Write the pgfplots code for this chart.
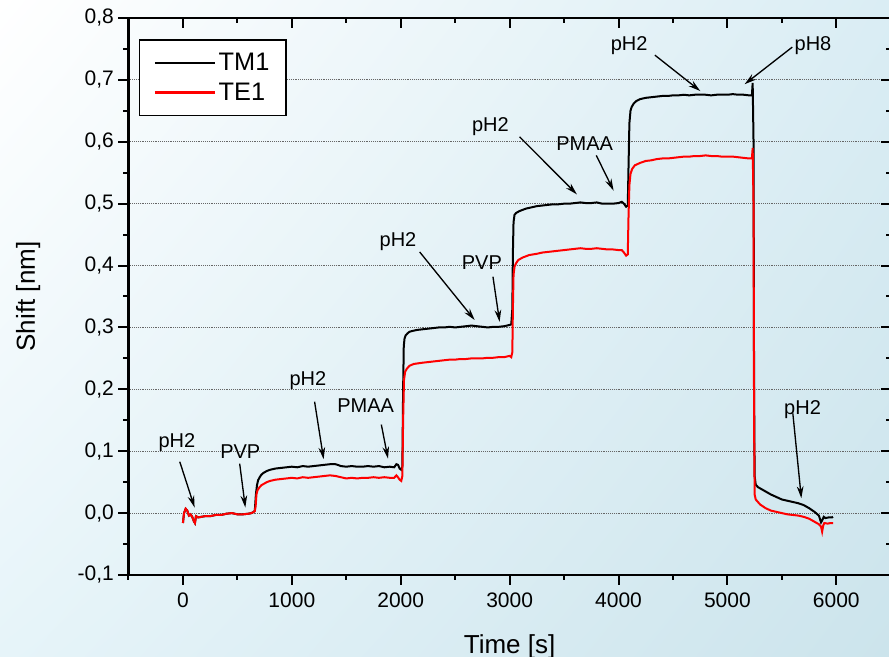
\documentclass[border=0pt]{standalone}
\usepackage{fontspec}
\setmainfont{Liberation Sans}
\usepackage{pgfplots}
\pgfplotsset{compat=1.18}
\usetikzlibrary{arrows.meta,backgrounds,shadings}
\definecolor{bgUR}{RGB}{218,237,244}
\definecolor{bgLL}{RGB}{230,244,249}
\definecolor{bgLR}{RGB}{204,228,236}
\definecolor{tered}{RGB}{255,0,0}
\pgfplotsset{
  common/.style={
    scale only axis, width=571.7pt, height=417.75pt,
    xmin=-500, xmax=6500, ymin=-0.1, ymax=0.8,
    xtick={0,1000,2000,3000,4000,5000,6000},
    minor xtick={-500,500,1500,2500,3500,4500,5500,6500},
    ytick={-0.1,0,0.1,0.2,0.3,0.4,0.5,0.6,0.7,0.8},
    minor ytick={-0.05,0.05,0.15,0.25,0.35,0.45,0.55,0.65,0.75},
    major tick length=7.5pt, minor tick length=3.75pt,
    every tick/.style={black, line width=1.5pt},
    axis line style={line width=2pt},
    scaled x ticks=false, scaled y ticks=false,
    /pgf/number format/assume math mode=true,
  }
}
\begin{document}
\begin{tikzpicture}
\begin{axis}[common, name=main,
  tick align=outside, xtick pos=bottom, ytick pos=left,
  ymajorgrids, major grid style={densely dotted, black!60, line width=0.6pt},
  tick label style={font=\fontsize{15.75}{18}\selectfont},
  xticklabel style={/pgf/number format/set thousands separator={}, yshift=-2pt},
  yticklabel style={/pgf/number format/.cd, use comma, fixed, fixed zerofill, precision=1},
  xlabel={Time [s]}, ylabel={Shift [nm]},
  label style={font=\fontsize{19.5}{22}\selectfont},
  xlabel style={at={(axis description cs:0.5,-0.1406)}, anchor=base},
  ylabel style={at={(axis description cs:-0.1227,0.5)}, anchor=base, rotate=0},
  legend style={at={(axis description cs:0.0138,0.9618)}, anchor=north west,
    draw=black, line width=1pt, fill=white,
    font=\fontsize{19}{22}\selectfont, inner xsep=10.5pt, inner ysep=8pt, row sep=3.5pt},
  legend cell align=left,
  legend image code/.code={\draw[#1, line width=1.8pt] (0pt,0pt) -- (45pt,0pt);},
]
\addplot[black, line width=1.5pt] coordinates {
(0,-0.016) (10,0.0) (25,0.007) (40,0.004) (55,-0.004) (70,-0.002) (85,-0.006) (100,-0.013) (110,-0.016) (120,-0.005) (140,-0.007) (170,-0.006) (200,-0.005) (250,-0.005) (300,-0.003) (350,-0.003) (400,-0.001) (450,0.000) (500,-0.002) (550,-0.002) (600,-0.001) (630,0.000) (650,0.002) (660,0.004) (670,0.03) (680,0.045) (690,0.053) (705,0.058) (720,0.062) (740,0.065) (770,0.068) (800,0.070) (850,0.072) (900,0.073) (950,0.074) (1000,0.075) (1050,0.074) (1100,0.076) (1150,0.075) (1200,0.076) (1250,0.077) (1300,0.078) (1350,0.079) (1400,0.079) (1420,0.078) (1450,0.076) (1500,0.075) (1550,0.076) (1600,0.075) (1650,0.075) (1700,0.076) (1750,0.075) (1800,0.076) (1850,0.074) (1900,0.075) (1940,0.074) (1960,0.079) (1975,0.078) (1990,0.072) (2005,0.070) (2015,0.075) (2022,0.20) (2028,0.27) (2035,0.282) (2045,0.287) (2060,0.290) (2080,0.293) (2100,0.294) (2150,0.296) (2200,0.297) (2250,0.298) (2300,0.299) (2350,0.300) (2400,0.300) (2450,0.301) (2500,0.300) (2550,0.301) (2600,0.302) (2650,0.303) (2700,0.302) (2750,0.301) (2800,0.300) (2850,0.301) (2900,0.301) (2950,0.302) (3000,0.304) (3015,0.305) (3025,0.33) (3030,0.42) (3036,0.47) (3045,0.482) (3060,0.485) (3090,0.488) (3120,0.490) (3150,0.492) (3200,0.494) (3250,0.496) (3300,0.497) (3350,0.498) (3400,0.499) (3450,0.499) (3500,0.500) (3550,0.500) (3600,0.501) (3650,0.502) (3700,0.501) (3750,0.501) (3800,0.502) (3850,0.500) (3900,0.500) (3950,0.500) (4000,0.501) (4030,0.503) (4050,0.500) (4070,0.495) (4085,0.497) (4092,0.56) (4100,0.63) (4110,0.650) (4120,0.656) (4140,0.662) (4165,0.666) (4200,0.669) (4250,0.671) (4300,0.672) (4350,0.673) (4400,0.674) (4450,0.674) (4500,0.675) (4550,0.675) (4600,0.676) (4650,0.675) (4700,0.676) (4750,0.676) (4800,0.676) (4850,0.675) (4900,0.676) (4950,0.676) (5000,0.676) (5050,0.677) (5100,0.676) (5150,0.676) (5200,0.675) (5225,0.675) (5232,0.695) (5240,0.60) (5245,0.20) (5250,0.06) (5260,0.046) (5280,0.042) (5300,0.040) (5350,0.035) (5400,0.030) (5450,0.026) (5500,0.022) (5550,0.020) (5600,0.018) (5650,0.016) (5700,0.013) (5750,0.008) (5800,0.002) (5840,-0.004) (5860,-0.015) (5875,-0.010) (5885,-0.006) (5900,-0.008) (5930,-0.007) (5960,-0.007) (5970,-0.006)
};
\addlegendentry{TM1}
\addplot[tered, line width=1.5pt] coordinates {
(0,-0.016) (10,0.0) (25,0.007) (40,0.004) (55,-0.004) (70,-0.002) (85,-0.006) (100,-0.013) (110,-0.016) (120,-0.005) (140,-0.007) (170,-0.006) (200,-0.005) (250,-0.005) (300,-0.003) (350,-0.003) (400,-0.001) (450,0.000) (500,-0.002) (550,-0.002) (600,-0.001) (630,0.000) (650,0.002) (660,0.003) (668,0.012) (675,0.030) (685,0.037) (700,0.041) (720,0.045) (740,0.047) (770,0.050) (800,0.052) (850,0.054) (900,0.055) (950,0.056) (1000,0.057) (1050,0.056) (1100,0.058) (1150,0.057) (1200,0.058) (1250,0.059) (1300,0.060) (1350,0.061) (1400,0.060) (1450,0.058) (1500,0.056) (1550,0.057) (1600,0.056) (1650,0.057) (1700,0.057) (1750,0.058) (1800,0.057) (1850,0.058) (1900,0.057) (1940,0.057) (1960,0.061) (1975,0.058) (1990,0.054) (2005,0.052) (2015,0.060) (2022,0.15) (2030,0.215) (2040,0.228) (2055,0.233) (2080,0.238) (2120,0.241) (2200,0.243) (2250,0.244) (2300,0.245) (2350,0.246) (2400,0.247) (2450,0.248) (2500,0.248) (2550,0.249) (2600,0.249) (2650,0.250) (2700,0.250) (2750,0.250) (2800,0.251) (2850,0.251) (2900,0.252) (2950,0.252) (3000,0.254) (3015,0.252) (3025,0.26) (3030,0.33) (3036,0.385) (3045,0.398) (3060,0.404) (3080,0.409) (3120,0.413) (3180,0.417) (3250,0.419) (3300,0.421) (3350,0.422) (3400,0.423) (3450,0.424) (3500,0.425) (3550,0.426) (3600,0.427) (3650,0.428) (3700,0.427) (3750,0.427) (3800,0.428) (3850,0.427) (3900,0.426) (3950,0.426) (4000,0.425) (4030,0.425) (4050,0.421) (4070,0.416) (4085,0.418) (4092,0.48) (4100,0.53) (4110,0.548) (4125,0.556) (4150,0.562) (4200,0.566) (4250,0.569) (4300,0.570) (4350,0.572) (4400,0.573) (4450,0.573) (4500,0.574) (4550,0.575) (4600,0.576) (4650,0.576) (4700,0.577) (4750,0.577) (4800,0.578) (4850,0.577) (4900,0.577) (4950,0.576) (5000,0.576) (5050,0.576) (5100,0.575) (5150,0.574) (5200,0.573) (5225,0.573) (5232,0.590) (5240,0.50) (5245,0.15) (5250,0.030) (5260,0.022) (5280,0.018) (5300,0.014) (5350,0.008) (5400,0.004) (5450,0.002) (5500,0.000) (5550,-0.002) (5600,-0.003) (5650,-0.004) (5700,-0.006) (5750,-0.009) (5800,-0.014) (5840,-0.018) (5860,-0.022) (5870,-0.030) (5880,-0.020) (5890,-0.016) (5920,-0.017) (5950,-0.016) (5970,-0.016)
};
\addlegendentry{TE1}
% annotations
\begin{scope}[font=\fontsize{15}{18}\selectfont]
\node at (axis cs:-55,0.114) {pH2};
\node at (axis cs:527,0.099) {PVP};
\node at (axis cs:1148,0.214) {pH2};
\node at (axis cs:1678,0.173) {PMAA};
\node at (axis cs:1975,0.438) {pH2};
\node at (axis cs:2745,0.405) {PVP};
\node at (axis cs:2823,0.625) {pH2};
\node at (axis cs:3689,0.597) {PMAA};
\node at (axis cs:4098,0.755) {pH2};
\node at (axis cs:5786,0.756) {pH8};
\node at (axis cs:5690,0.168) {pH2};
\end{scope}
\begin{scope}[line width=1pt, -{Stealth[length=9pt,width=5pt]}]
\draw (axis cs:-29,0.083) -- (axis cs:107,0.009);
\draw (axis cs:521,0.080) -- (axis cs:573,0.009);
\draw (axis cs:1209,0.180) -- (axis cs:1292,0.087);
\draw (axis cs:1822,0.143) -- (axis cs:1883,0.088);
\draw (axis cs:2174,0.422) -- (axis cs:2679,0.312);
\draw (axis cs:2847,0.382) -- (axis cs:2908,0.309);
\draw (axis cs:3092,0.608) -- (axis cs:3618,0.515);
\draw (axis cs:3796,0.578) -- (axis cs:3955,0.521);
\draw (axis cs:4334,0.740) -- (axis cs:4751,0.682);
\draw (axis cs:5596,0.753) -- (axis cs:5158,0.693);
\draw (axis cs:5601,0.161) -- (axis cs:5679,0.024);
\end{scope}
\end{axis}
\begin{axis}[common,
  tick align=inside, xtick pos=top, ytick pos=right,
  xticklabels={}, yticklabels={},
]
\end{axis}
\begin{scope}[on background layer]
\shade[upper left=white, upper right=bgUR, lower left=bgLL, lower right=bgLR]
  ([shift={(-96.375pt,-61.5pt)}]main.south west) rectangle ([shift={(570.4pt,431.25pt)}]main.south west);
\end{scope}
\pgfresetboundingbox
\path[use as bounding box] ([shift={(-96.375pt,-61.5pt)}]main.south west) rectangle ([shift={(570.4pt,431.25pt)}]main.south west);
\end{tikzpicture}
\end{document}
